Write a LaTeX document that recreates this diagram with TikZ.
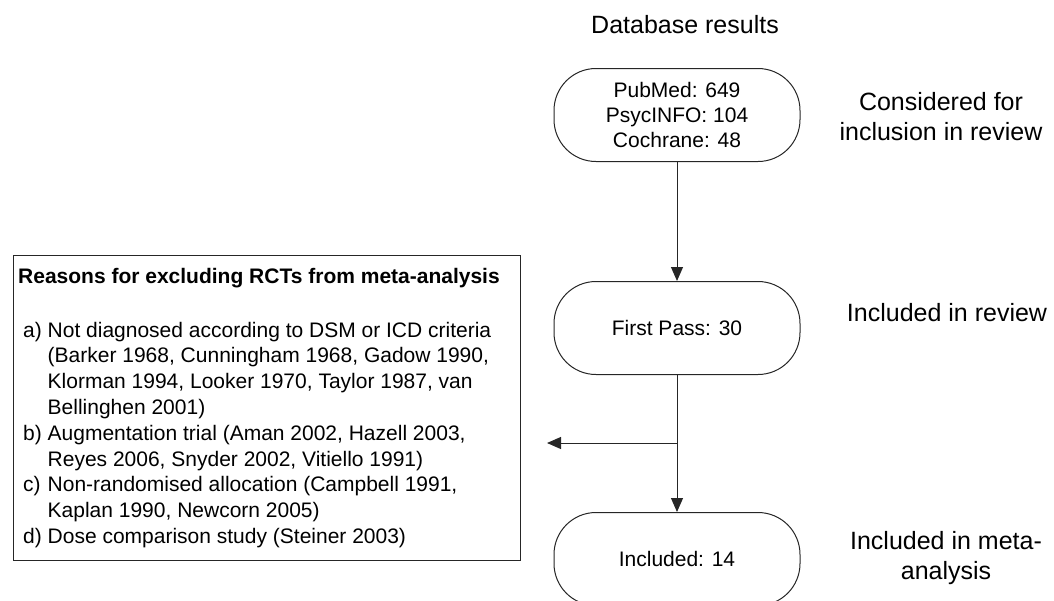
\documentclass[tikz,border=0pt]{standalone}
\usepackage{fontspec}
\setmainfont{Liberation Sans}
\usetikzlibrary{arrows.meta}
\tikzset{
  oval/.style={draw=black!85,line width=1pt,rounded corners=42pt,minimum width=246pt,
    minimum height=93pt,align=center,font=\fontsize{21}{25}\selectfont},
  stage/.style={align=center,font=\fontsize{25}{30}\selectfont},
  arr/.style={line width=1pt,draw=black!85,-{Triangle[length=14pt,width=12pt]}}
}
\begin{document}
\begin{tikzpicture}[x=1pt,y=-1pt]
\useasboundingbox (0,0) rectangle (1054,600);
\node[stage] (head) at (685,25) {Database results};
\node[oval] (db) at (677,115) {PubMed: 649\\PsycINFO: 104\\Cochrane: 48};
\node[oval] (pass) at (677,328) {First Pass: 30};
\node[oval] (incl) at (677,559) {Included: 14};
\node[stage] (lab1) at (941,117) {Considered for\\inclusion in review};
\node[stage] (lab2) at (947,313) {Included in review};
\node[stage] (lab3) at (946,558) {Included in meta-\\analysis};
\node[draw=black!85,line width=1pt,minimum width=507pt,minimum height=305pt] (reasons) at (266.5,407.5) {};
\node[anchor=base west,inner sep=0pt,font=\fontsize{21}{25.8}\selectfont\bfseries] (title) at (18,283)
  {Reasons for excluding RCTs from meta-analysis};
\node[anchor=base west,inner sep=0pt,font=\fontsize{21}{25.8}\selectfont] (list) at (23,337)
  {\begin{tabular}[t]{@{}l@{\ }l@{}}
  a) & Not diagnosed according to DSM or ICD criteria\\
     & (Barker 1968, Cunningham 1968, Gadow 1990,\\
     & Klorman 1994, Looker 1970, Taylor 1987, van\\
     & Bellinghen 2001)\\
  b) & Augmentation trial (Aman 2002, Hazell 2003,\\
     & Reyes 2006, Snyder 2002, Vitiello 1991)\\
  c) & Non-randomised allocation (Campbell 1991,\\
     & Kaplan 1990, Newcorn 2005)\\
  d) & Dose comparison study (Steiner 2003)
  \end{tabular}};
\coordinate (excl) at (547,443);
\draw[arr] (db) -- (pass);
\draw[arr] (pass) -- (incl);
\draw[arr] (pass.south |- excl) -- (excl);
\end{tikzpicture}
\end{document}
